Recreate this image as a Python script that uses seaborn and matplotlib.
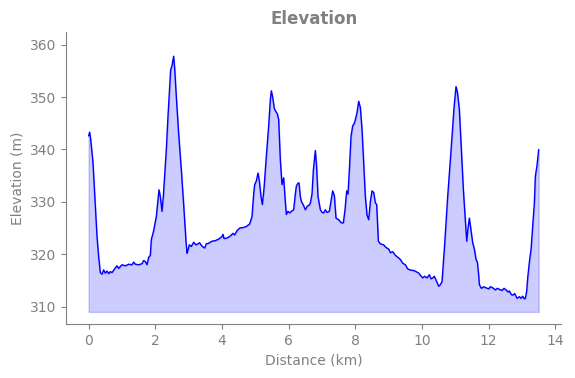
import pandas as pd
import numpy as np
import matplotlib.pyplot as plt
import seaborn as sns

# Elevation profile (km, m)
distance_km = [
    0.00, 0.03, 0.06, 0.10, 0.13, 0.16, 0.20, 0.25, 0.30, 0.35, 0.40, 0.45, 0.50, 0.55,
    0.60, 0.65, 0.70, 0.80, 0.85, 0.90, 1.00, 1.10, 1.20, 1.30, 1.35, 1.40, 1.50, 1.60,
    1.65, 1.70, 1.75, 1.80, 1.85, 1.88, 1.95, 2.03, 2.08, 2.11, 2.15, 2.20, 2.24, 2.28,
    2.33, 2.38, 2.43, 2.46, 2.50, 2.55, 2.58, 2.63, 2.70, 2.78, 2.85, 2.92, 2.95, 2.98,
    3.02, 3.08, 3.15, 3.22, 3.28, 3.33, 3.38, 3.43, 3.48, 3.53, 3.60, 3.70, 3.80, 3.90,
    4.00, 4.03, 4.06, 4.15, 4.25, 4.33, 4.38, 4.45, 4.53, 4.63, 4.73, 4.83, 4.90, 4.95,
    4.98, 5.03, 5.08, 5.12, 5.17, 5.21, 5.26, 5.33, 5.40, 5.45, 5.48, 5.52, 5.57, 5.61,
    5.66, 5.70, 5.75, 5.80, 5.85, 5.90, 5.93, 5.98, 6.03, 6.10, 6.15, 6.20, 6.23, 6.28,
    6.31, 6.35, 6.38, 6.44, 6.50, 6.56, 6.62, 6.65, 6.70, 6.74, 6.80, 6.84, 6.88, 6.95,
    7.00, 7.05, 7.10, 7.15, 7.22, 7.28, 7.32, 7.37, 7.42, 7.50, 7.58, 7.64, 7.69, 7.74,
    7.78, 7.82, 7.87, 7.92, 7.97, 8.00, 8.05, 8.10, 8.15, 8.20, 8.25, 8.30, 8.35, 8.40,
    8.45, 8.50, 8.55, 8.60, 8.64, 8.69, 8.75, 8.85, 8.92, 9.00, 9.05, 9.12, 9.20, 9.30,
    9.35, 9.42, 9.50, 9.57, 9.65, 9.75, 9.82, 9.90, 9.95, 10.02, 10.08, 10.15, 10.22, 10.27,
    10.32, 10.37, 10.43, 10.50, 10.55, 10.60, 10.68, 10.77, 10.85, 10.90, 10.96, 11.02, 11.06, 11.12,
    11.18, 11.24, 11.30, 11.34, 11.38, 11.42, 11.47, 11.52, 11.57, 11.62, 11.66, 11.70, 11.72, 11.78,
    11.85, 11.92, 12.00, 12.05, 12.12, 12.20, 12.26, 12.32, 12.40, 12.46, 12.52, 12.58, 12.62, 12.68,
    12.72, 12.78, 12.85, 12.92, 12.97, 13.02, 13.07, 13.10, 13.14, 13.17, 13.22, 13.27, 13.32, 13.37,
    13.40, 13.45, 13.50,
]
elevation_m = [
    342.6, 343.3, 342.0, 339.5, 337.5, 334.0, 329.0, 323.5, 319.5, 316.5, 316.2, 317.0, 316.4, 316.8,
    316.3, 316.7, 316.5, 317.4, 317.8, 317.3, 318.0, 317.8, 318.1, 318.0, 318.5, 318.1, 318.0, 318.2,
    318.8, 318.6, 318.0, 319.4, 319.8, 322.8, 324.5, 327.2, 330.5, 332.3, 331.0, 328.2, 331.0, 334.9,
    340.0, 346.3, 352.0, 355.2, 356.0, 357.8, 355.5, 350.1, 343.0, 336.1, 329.5, 322.5, 320.2, 320.8,
    321.8, 321.5, 322.3, 321.8, 322.0, 322.2, 321.7, 321.4, 321.2, 322.0, 322.1, 322.5, 322.6, 322.9,
    323.4, 323.8, 323.0, 323.1, 323.5, 324.0, 323.7, 324.5, 325.0, 325.1, 325.3, 325.8, 327.2, 331.5,
    333.3, 334.0, 335.5, 334.0, 331.0, 329.5, 332.5, 338.7, 344.5, 349.5, 351.2, 350.0, 347.8, 347.3,
    346.8, 345.7, 338.0, 333.3, 334.6, 330.0, 327.6, 328.2, 327.9, 328.3, 328.5, 331.5, 333.0, 333.6,
    333.6, 331.0, 330.1, 329.4, 328.5, 329.2, 329.4, 329.8, 331.5, 336.0, 339.8, 336.5, 331.0, 328.5,
    328.0, 327.9, 328.5, 328.0, 328.2, 330.5, 332.1, 331.2, 326.9, 326.6, 326.0, 326.0, 328.5, 332.1,
    331.5, 336.0, 342.5, 344.5, 345.0, 345.7, 347.0, 349.2, 348.0, 343.8, 337.5, 331.0, 327.5, 326.6,
    330.0, 332.1, 331.8, 329.8, 329.5, 322.5, 322.0, 321.8, 321.3, 321.0, 320.3, 320.5, 319.8, 319.3,
    319.0, 318.3, 318.0, 317.2, 317.0, 316.9, 316.7, 316.4, 316.0, 315.5, 315.8, 315.5, 316.1, 315.3,
    315.5, 315.8, 314.9, 313.9, 314.2, 314.8, 322.0, 331.0, 338.0, 342.5, 348.0, 352.0, 351.0, 347.6,
    340.0, 332.3, 326.5, 322.5, 325.0, 326.9, 324.5, 322.2, 321.0, 319.0, 318.5, 316.0, 314.2, 313.5,
    313.8, 313.6, 313.4, 313.8, 313.6, 313.2, 313.5, 313.3, 313.1, 313.5, 313.2, 312.8, 313.0, 312.3,
    312.2, 312.5, 311.6, 311.9, 311.6, 312.0, 311.5, 311.6, 313.0, 315.5, 318.5, 320.9, 325.5, 329.8,
    334.9, 337.0, 340.0,
]
fill_base = 309

df = pd.DataFrame({"Distance (km)": distance_km, "Elevation (m)": elevation_m})

sns.set_style("ticks")
fig, ax = plt.subplots(figsize=(5.75, 3.78), dpi=100)

ax.fill_between(df["Distance (km)"], df["Elevation (m)"], fill_base, color="blue", alpha=0.2)
sns.lineplot(data=df, x="Distance (km)", y="Elevation (m)", color="blue", linewidth=1, ax=ax)

ax.set_ylim(306.7, 362.4)
ax.set_xticks([0, 2, 4, 6, 8, 10, 12, 14])
ax.set_yticks([310, 320, 330, 340, 350, 360])

ax.set_title("Elevation", color="gray", fontweight="bold", fontsize=12)
ax.set_xlabel("Distance (km)", color="gray", fontsize=10)
ax.set_ylabel("Elevation (m)", color="gray", fontsize=10)
ax.tick_params(colors="gray", labelsize=10)
sns.despine(ax=ax)
for side in ["left", "bottom"]:
    ax.spines[side].set_color("gray")

fig.subplots_adjust(left=0.115, right=0.976, top=0.915, bottom=0.143)
fig.savefig("out.png", dpi=100)
